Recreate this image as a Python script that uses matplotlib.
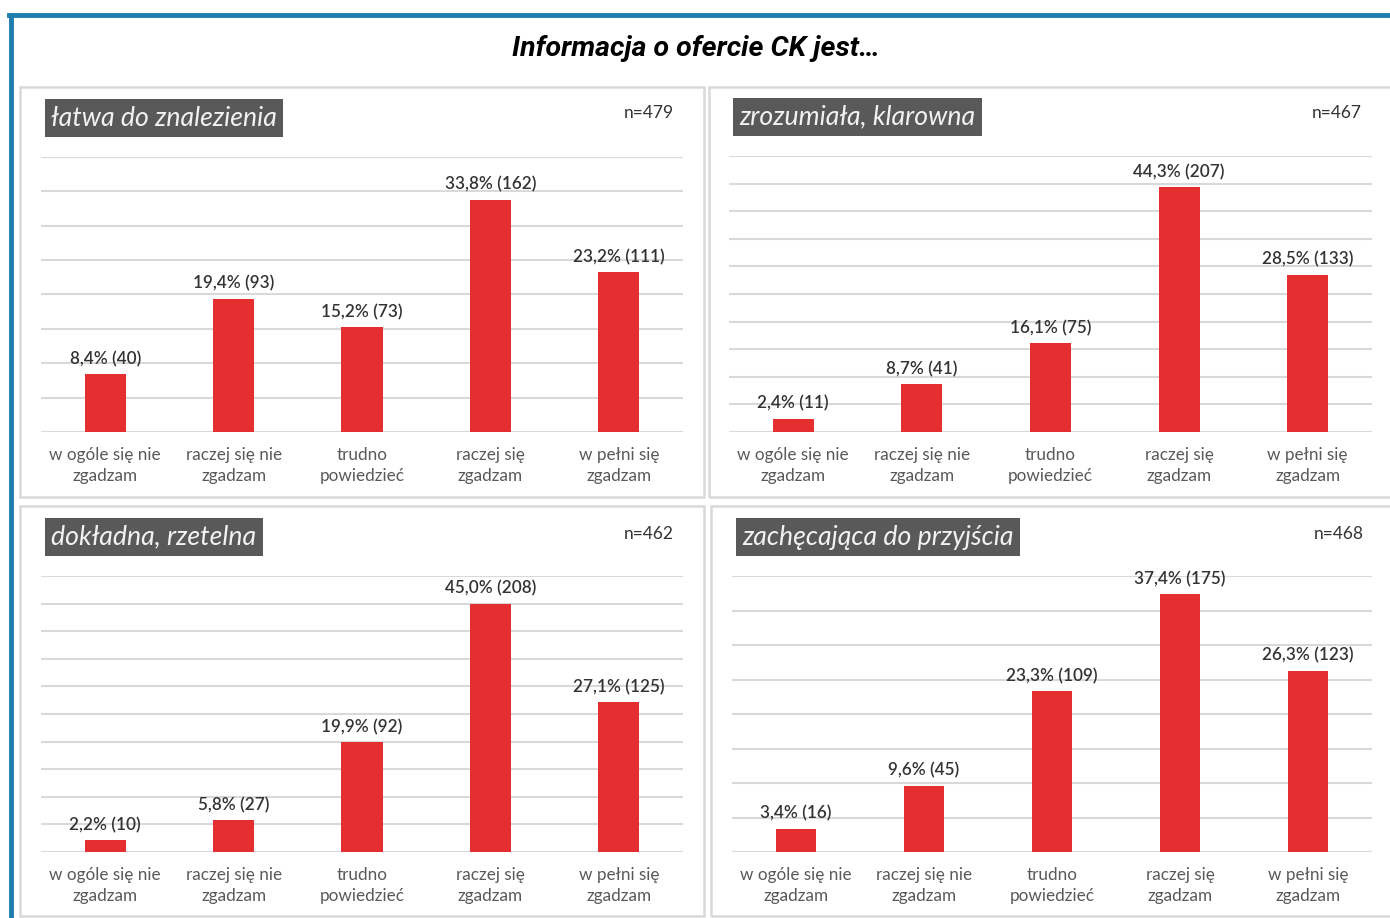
import matplotlib.pyplot as plt
from matplotlib.patches import Rectangle

# data
categories = ['w ogóle się nie\nzgadzam', 'raczej się nie\nzgadzam', 'trudno\npowiedzieć',
              'raczej się\nzgadzam', 'w pełni się\nzgadzam']
panel_titles = ['łatwa do znalezienia', 'zrozumiała, klarowna',
                'dokładna, rzetelna', 'zachęcająca do przyjścia']
n_values = [479, 467, 462, 468]
pct_latwa = [8.4, 19.4, 15.2, 33.8, 23.2]
cnt_latwa = [40, 93, 73, 162, 111]
pct_zrozumiala = [2.4, 8.7, 16.1, 44.3, 28.5]
cnt_zrozumiala = [11, 41, 75, 207, 133]
pct_dokladna = [2.2, 5.8, 19.9, 45.0, 27.1]
cnt_dokladna = [10, 27, 92, 208, 125]
pct_zachecajaca = [3.4, 9.6, 23.3, 37.4, 26.3]
cnt_zachecajaca = [16, 45, 109, 175, 123]
y_max = [40, 50, 50, 40]

W, H = 1390, 918
RED = '#E52E2F'
GRID = '#D9D9D9'

plt.rcParams['font.family'] = ['Lato', 'DejaVu Sans']

fig = plt.figure(figsize=(W / 100, H / 100), dpi=100)


def frac(x, y, w, h):
    # pixel box (top-left origin) -> figure fraction
    return [x / W, 1 - (y + h) / H, w / W, h / H]


# blue frame on top and left
fig.add_artist(plt.Line2D([9 / W, 1], [1 - 15 / H, 1 - 15 / H], color='#1F7DB0', lw=3.5))
fig.add_artist(plt.Line2D([11 / W, 11 / W], [0, 1 - 15 / H], color='#1F7DB0', lw=3.5))

fig.text(696 / W, 1 - 48 / H, 'Informacja o ofercie CK jest…', ha='center', va='center',
         fontsize=20.5, fontweight='bold', fontstyle='italic',
         family=['Liberation Sans Narrow', 'Roboto', 'DejaVu Sans'])

# panel boxes, plot areas, label boxes, n-text positions (pixels)
boxes = [(20, 87, 684, 410), (709, 87, 690, 410), (20, 506, 684, 410), (711, 506, 690, 410)]
plot_areas = [(41, 157, 642, 275), (729, 156, 643, 276), (41, 576, 642, 276), (732, 576, 640, 276)]
label_pos = [(51, 118), (739, 117), (51, 537), (742, 537)]
n_pos = [(674, 113), (1362, 113), (674, 534), (1364, 534)]

series = [(pct_latwa, cnt_latwa), (pct_zrozumiala, cnt_zrozumiala),
          (pct_dokladna, cnt_dokladna), (pct_zachecajaca, cnt_zachecajaca)]

for i in range(4):
    bx, by, bw, bh = boxes[i]
    fig.add_artist(Rectangle((bx / W, 1 - (by + bh) / H), bw / W, bh / H,
                             transform=fig.transFigure, fill=False, ec=GRID, lw=1.8))

    ax = fig.add_axes(frac(*plot_areas[i]))
    pct, cnt = series[i]
    x = range(len(categories))
    bars = ax.bar(x, pct, width=0.32, color=RED, zorder=3)
    for b, p, c in zip(bars, pct, cnt):
        ax.annotate(f'{p:.1f}'.replace('.', ',') + f'% ({c})',
                    (b.get_x() + b.get_width() / 2, b.get_height()),
                    xytext=(0, 5), textcoords='offset points', ha='center', va='bottom',
                    fontsize=12.3, color='#333333', fontweight='semibold')
    ax.set_xlim(-0.5, 4.5)
    ax.set_ylim(0, y_max[i])
    ax.set_yticks(range(0, y_max[i] + 1, 5))
    ax.yaxis.grid(True, color=GRID, lw=1.5)
    ax.set_axisbelow(True)
    ax.tick_params(axis='y', length=0, labelleft=False)
    ax.set_xticks(list(x))
    ax.set_xticklabels(categories, fontsize=12.3, color='#595959', linespacing=1.35)
    ax.tick_params(axis='x', length=0, pad=11)
    for s in ax.spines.values():
        s.set_visible(False)

    lx, ly = label_pos[i]
    fig.text(lx / W, 1 - ly / H, panel_titles[i], ha='left', va='center', fontsize=19.2,
             fontstyle='italic', color='#F2F2F2',
             bbox=dict(boxstyle='square,pad=0.24', fc='#595959', ec='none'))
    nx, ny = n_pos[i]
    fig.text(nx / W, 1 - ny / H, f'n={n_values[i]}', ha='right', va='center',
             fontsize=12.5, color='#333333')

fig.savefig('out.png', dpi=100)
